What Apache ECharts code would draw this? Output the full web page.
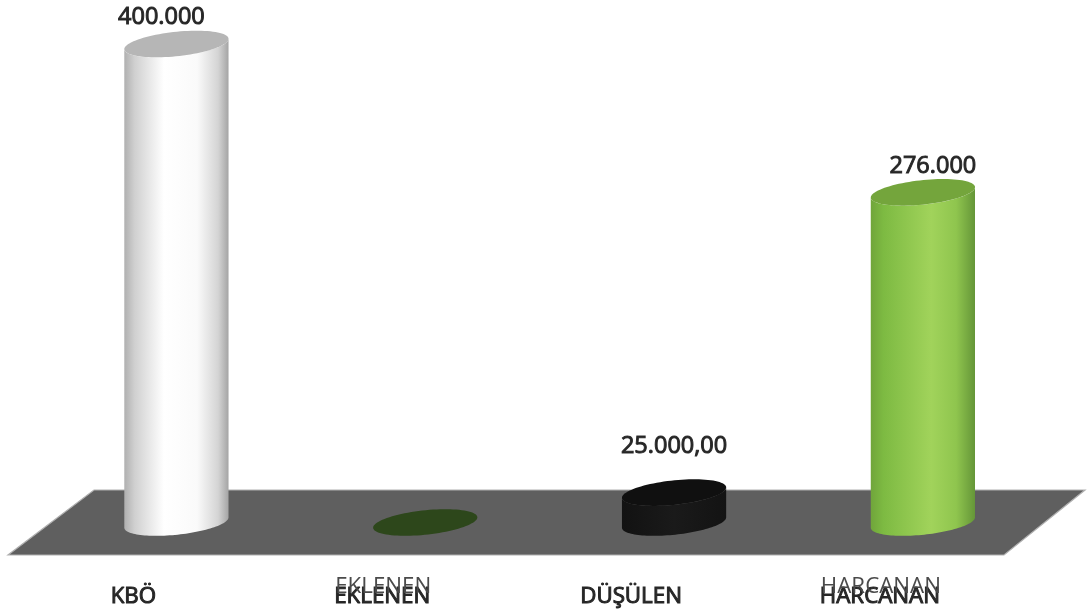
<!DOCTYPE html>
<html>
<head>
<meta charset="utf-8">
<style>html,body{margin:0;padding:0;background:#fff}#c{width:1087px;height:614px}</style>
<script src="https://cdn.jsdelivr.net/npm/echarts@6/dist/echarts.min.js"></script>
</head>
<body>
<div id="c"></div>
<script>
const categories = ['KBÖ', 'EKLENEN', 'DÜŞÜLEN', 'HARCANAN'];
const ghostLabels = ['', 'EKLENEN', '', 'HARCANAN'];
const values = [400000, 0, 25000, 276000];
const valueLabels = ['400.000', '', '25.000,00', '276.000'];

const looks = [
  {top: '#b6b6b6', stops: [[0,'#b0b0b0'],[0.1,'#d0d0d0'],[0.38,'#ffffff'],[0.7,'#fafafa'],[0.9,'#d4d4d4'],[1,'#a4a4a4']]},
  {top: '#2d471b', stops: [[0,'#2d471b'],[1,'#2d471b']]},
  {top: '#101010', stops: [[0,'#121212'],[0.5,'#1a1a1a'],[1,'#131313']]},
  {top: '#74a53c', stops: [[0,'#70a53b'],[0.12,'#7dba42'],[0.58,'#a1d35b'],[0.82,'#8fc54e'],[1,'#659638']]}
];
const labelNudge = [[-15, -27], [0, 0], [0, -46], [10, -26]];
const RX = 52.4, RY = 12.2, TILT = 6 * Math.PI / 180;

function ellipsePoints(cx, cy, from, to, n) {
  const pts = [];
  for (let i = 0; i <= n; i++) {
    const t = from + (to - from) * i / n;
    const ex = RX * Math.cos(t), ey = RY * Math.sin(t);
    pts.push([cx + ex * Math.cos(TILT) + ey * Math.sin(TILT),
              cy - ex * Math.sin(TILT) + ey * Math.cos(TILT)]);
  }
  return pts;
}

function renderCylinder(params, api) {
  const i = params.dataIndex;
  const base = api.coord([api.value(0), 0]);
  const top = api.coord([api.value(0), api.value(1)]);
  const look = looks[i];
  const cx = base[0];
  const children = [];
  const lower = ellipsePoints(cx, base[1], 0, Math.PI, 60);
  const upper = ellipsePoints(cx, top[1], Math.PI, 0, 60);
  children.push({
    type: 'polygon',
    shape: {points: lower.concat(upper)},
    style: {fill: new echarts.graphic.LinearGradient(0, 0, 1, 0,
      look.stops.map(s => ({offset: s[0], color: s[1]})))}
  });
  children.push({
    type: 'polygon',
    shape: {points: ellipsePoints(cx, top[1], 0, Math.PI * 2, 90)},
    style: {fill: look.top}
  });
  if (valueLabels[i]) {
    children.push({
      type: 'text',
      x: cx + labelNudge[i][0],
      y: top[1] + labelNudge[i][1],
      style: {
        text: valueLabels[i], fill: '#262626',
        font: '23.5px "Open Sans"', align: 'center', verticalAlign: 'middle',
        stroke: '#333333', lineWidth: 1
      }
    });
  }
  return {type: 'group', children};
}

const chart = echarts.init(document.getElementById('c'), null, {renderer: 'canvas'});
chart.setOption({
  animation: false,
  backgroundColor: '#ffffff',
  grid: {left: 52, width: 995.3, top: 44, bottom: 91.5, containLabel: false},
  graphic: [{
    type: 'polygon', z: 0, silent: true,
    shape: {points: [[94, 490], [1085, 490], [1004, 555], [8, 555]]},
    style: {fill: '#5f5f5f', stroke: '#b0b0b0', lineWidth: 1.2}
  }],
  xAxis: [{
    type: 'category', data: categories, position: 'bottom',
    axisLine: {show: false}, axisTick: {show: false}, splitLine: {show: false},
    axisLabel: {
      interval: 0, hideOverlap: false, margin: 63.5, padding: [0, 86, 0, 0],
      color: '#262626', fontFamily: 'Open Sans', fontSize: 22.3,
      textBorderColor: '#262626', textBorderWidth: 1
    }
  }, {
    type: 'category', data: ghostLabels, position: 'bottom',
    axisLine: {show: false}, axisTick: {show: false}, splitLine: {show: false},
    axisLabel: {
      interval: 0, hideOverlap: false, margin: 53, padding: [0, 84, 0, 0],
      color: '#4a4a4a', fontFamily: 'Open Sans', fontSize: 22.3
    }
  }],
  yAxis: {type: 'value', min: 0, max: 400000, show: false},
  series: [{
    type: 'custom',
    z: 5,
    clip: false,
    xAxisIndex: 0,
    encode: {x: 0, y: 1},
    data: values.map((v, i) => [i, v]),
    renderItem: renderCylinder
  }]
});
</script>
</body>
</html>
